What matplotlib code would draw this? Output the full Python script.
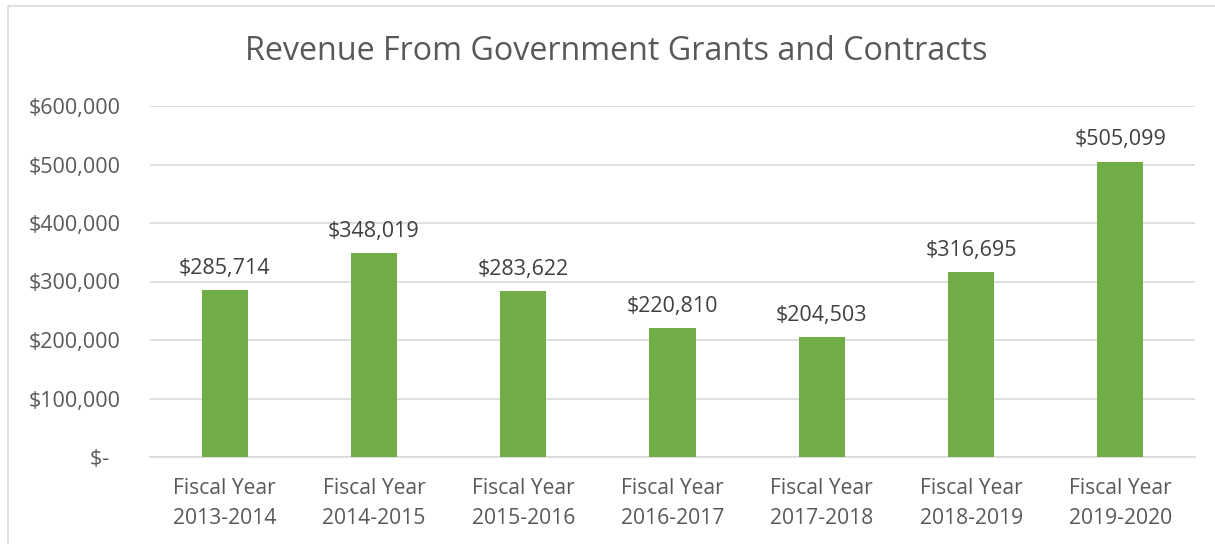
import matplotlib
matplotlib.use("Agg")
import matplotlib.pyplot as plt
from matplotlib.patches import Rectangle

categories = ["Fiscal Year\n2013-2014", "Fiscal Year\n2014-2015", "Fiscal Year\n2015-2016",
              "Fiscal Year\n2016-2017", "Fiscal Year\n2017-2018", "Fiscal Year\n2018-2019",
              "Fiscal Year\n2019-2020"]
values = [285714, 348019, 283622, 220810, 204503, 316695, 505099]
yticks = [0, 100000, 200000, 300000, 400000, 500000, 600000]
ytick_labels = ["$-  ", "$100,000", "$200,000", "$300,000", "$400,000", "$500,000", "$600,000"]
title = "Revenue From Government Grants and Contracts"

plt.rcParams['font.family'] = ['Open Sans', 'DejaVu Sans']
txt = "#595959"
W, H = 1215, 544
fig = plt.figure(figsize=(W / 100, H / 100), dpi=100)
fig.patch.set_facecolor("white")
fig.add_artist(Rectangle((8 / W, -0.1), 1.2, 1 - 6 / H + 0.1, transform=fig.transFigure,
                         fill=False, edgecolor="#d9d9d9", linewidth=1.2))

ax = fig.add_axes([150 / W, 1 - 457 / H, (1195 - 150) / W, (457 - 106) / H])
x = list(range(len(values)))
ax.bar(x, values, width=0.31, color="#70ad47", zorder=3)
for xi, v in zip(x, values):
    ax.annotate(f"${v:,}", (xi, v), xytext=(0, 8), textcoords="offset points",
                ha="center", va="bottom", fontsize=15.5, color="#404040")
ax.set_xlim(-0.5, len(values) - 0.5)
ax.set_ylim(0, 600000)
ax.set_yticks(yticks)
ax.set_yticklabels(ytick_labels, fontsize=15.5, color=txt)
ax.set_xticks(x)
ax.set_xticklabels(categories, fontsize=15.2, color=txt, linespacing=1.58)
ax.tick_params(length=0)
ax.tick_params(axis="y", pad=21)
ax.tick_params(axis="x", pad=15)
ax.grid(axis="y", color="#d9d9d9", linewidth=1.2, zorder=0)
for s in ["top", "right", "left"]:
    ax.spines[s].set_visible(False)
ax.spines["bottom"].set_color("#d9d9d9")
ax.spines["bottom"].set_linewidth(1.2)

fig.text(616 / W, 1 - 51 / H, title, ha="center", va="center", fontsize=23.2, color=txt)
fig.savefig("out.png", dpi=100)
